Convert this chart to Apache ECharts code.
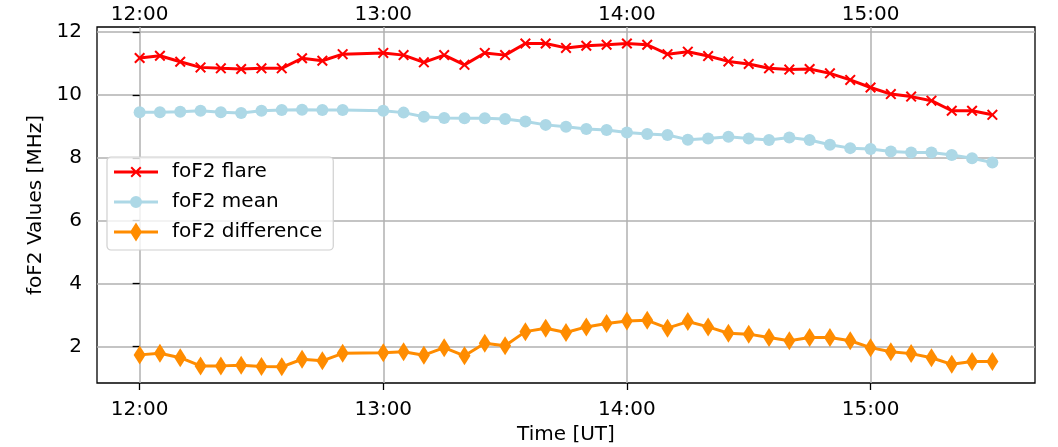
<!DOCTYPE html>
<html>
<head>
<meta charset="utf-8">
<script src="https://cdn.jsdelivr.net/npm/echarts@6/dist/echarts.min.js"></script>
<style>
html,body{margin:0;padding:0;background:#fff;}
#chart{width:1058px;height:447px;}
</style>
</head>
<body>
<div id="chart"></div>
<script>
const times = ['12:00','12:05','12:10','12:15','12:20','12:25','12:30','12:35','12:40','12:45','12:50',
  '13:00','13:05','13:10','13:15','13:20','13:25','13:30','13:35','13:40','13:45','13:50','13:55',
  '14:00','14:05','14:10','14:15','14:20','14:25','14:30','14:35','14:40','14:45','14:50','14:55',
  '15:00','15:05','15:10','15:15','15:20','15:25','15:30'];
const foF2Flare = [11.18,11.25,11.06,10.88,10.85,10.83,10.85,10.85,11.17,11.09,11.30,
  11.34,11.27,11.04,11.27,10.96,11.34,11.27,11.64,11.64,11.50,11.57,11.60,
  11.64,11.60,11.30,11.38,11.24,11.07,10.99,10.85,10.81,10.83,10.69,10.48,
  10.24,10.03,9.95,9.82,9.50,9.50,9.37];
const foF2Mean = [9.45,9.45,9.47,9.50,9.45,9.43,9.50,9.52,9.53,9.52,9.52,
  9.50,9.44,9.31,9.27,9.26,9.26,9.24,9.16,9.05,8.99,8.92,8.89,
  8.81,8.76,8.73,8.58,8.62,8.67,8.62,8.57,8.65,8.57,8.42,8.31,
  8.28,8.20,8.17,8.17,8.09,7.99,7.85];
const foF2Diff = [1.73,1.78,1.64,1.38,1.38,1.40,1.36,1.35,1.59,1.54,1.78,
  1.80,1.83,1.72,1.96,1.70,2.10,2.02,2.47,2.58,2.44,2.62,2.73,
  2.81,2.83,2.58,2.79,2.62,2.42,2.39,2.28,2.18,2.28,2.28,2.18,
  1.96,1.83,1.77,1.64,1.43,1.52,1.52];
const xTickLabels = ['12:00','13:00','14:00','15:00'];
const yTickValues = [2,4,6,8,10,12];

function toMin(s){ const p = s.split(':'); return (parseInt(p[0],10)-12)*60 + parseInt(p[1],10); }
function fmt(m){ const h = 12 + Math.floor(m/60); const mm = m % 60; return h + ':' + (mm<10?'0':'') + mm; }
const xs = times.map(toMin);
const xTickValues = xTickLabels.map(toMin);
const pair = arr => arr.map((v,i)=>[xs[i], v]);

const FONT = 'DejaVu Sans';
const FS = 20;
const xPath = 'path://M0,1.3 L1.3,0 L5,3.7 L8.7,0 L10,1.3 L6.3,5 L10,8.7 L8.7,10 L5,6.3 L1.3,10 L0,8.7 L3.7,5 Z';
const dPath = 'path://M0,9.5 L6,0 L12,9.5 L6,19 Z';
// legend icons: line sample + marker
const iconFlare = 'path://M0,4 L44,4 L44,7 L0,7 Z M16.5,1.4 L17.9,0 L22,4.1 L26.1,0 L27.5,1.4 L23.4,5.5 L27.5,9.6 L26.1,11 L22,6.9 L17.9,11 L16.5,9.6 L20.6,5.5 Z';
const iconMean = 'path://M0,4.5 L44,4.5 L44,7.5 L0,7.5 Z M16,6 A6,6 0 1 1 28,6 A6,6 0 1 1 16,6 Z';
const iconDiff = 'path://M0,8 L44,8 L44,11 L0,11 Z M16,9.5 L22,0 L28,9.5 L22,19 Z';
const xMin = -10.5, xMax = 220.5, yMin = 0.835, yMax = 12.165;

const chart = echarts.init(document.getElementById('chart'), null, {renderer:'canvas'});
chart.setOption({
  animation:false,
  backgroundColor:'#fff',
  textStyle:{fontFamily:FONT},
  grid:{left:97, right:23, top:27, bottom:64, show:true, borderColor:'#000', borderWidth:1.3, backgroundColor:'transparent',
    containLabel:false, outerBoundsMode:'none'},
  legend:{
    orient:'vertical', left:107, top:157,
    padding:[5,11,8,7], itemGap:10, itemWidth:44, itemHeight:19,
    backgroundColor:'rgba(255,255,255,0.8)', borderColor:'#d0d0d0', borderWidth:1.2, borderRadius:4,
    textStyle:{fontFamily:FONT, fontSize:FS, color:'#000', lineHeight:20, padding:[0,0,0,9]},
    data:[
      {name:'foF2 flare', icon:iconFlare},
      {name:'foF2 mean', icon:iconMean},
      {name:'foF2 difference', icon:iconDiff}
    ]
  },
  xAxis:[{
    type:'value', position:'bottom', min:xMin, max:xMax,
    name:'Time [UT]', nameLocation:'middle', nameGap:42,
    nameTextStyle:{fontFamily:FONT, fontSize:FS, color:'#000'},
    axisLine:{show:false},
    axisTick:{show:true, inside:false, length:7, lineStyle:{color:'#000', width:1.3}, customValues:xTickValues},
    axisLabel:{customValues:xTickValues, formatter:v=>fmt(v), fontFamily:FONT, fontSize:FS, color:'#000', margin:17},
    splitLine:{show:true, lineStyle:{color:'#b0b0b0', width:1.5}}
  },{
    type:'value', position:'top', min:xMin, max:xMax,
    axisLine:{show:false}, axisTick:{show:false},
    axisLabel:{customValues:xTickValues, formatter:v=>fmt(v), fontFamily:FONT, fontSize:FS, color:'#000', margin:2},
    splitLine:{show:false}
  }],
  yAxis:{
    type:'value', min:yMin, max:yMax,
    name:'foF2 Values [MHz]', nameLocation:'middle', nameGap:50,
    nameTextStyle:{fontFamily:FONT, fontSize:FS, color:'#000'},
    axisLine:{show:false},
    axisTick:{show:true, inside:false, length:7, lineStyle:{color:'#000', width:1.3}, customValues:yTickValues},
    axisLabel:{customValues:yTickValues, fontFamily:FONT, fontSize:FS, color:'#000', margin:15},
    splitLine:{show:true, lineStyle:{color:'#b0b0b0', width:1.5}}
  },
  series:[
    {name:'foF2 flare', type:'line', xAxisIndex:0, data:pair(foF2Flare), symbol:xPath, symbolSize:11,
      lineStyle:{color:'#ff0000', width:3}, itemStyle:{color:'#ff0000'}, z:3},
    {name:'foF2 mean', type:'line', xAxisIndex:0, data:pair(foF2Mean), symbol:'circle', symbolSize:12,
      lineStyle:{color:'#add8e6', width:3}, itemStyle:{color:'#add8e6'}, z:4},
    {name:'foF2 difference', type:'line', xAxisIndex:0, data:pair(foF2Diff), symbol:dPath, symbolSize:[12,19], symbolKeepAspect:false,
      lineStyle:{color:'#ff8c00', width:3}, itemStyle:{color:'#ff8c00'}, z:5}
  ]
});
</script>
</body>
</html>
